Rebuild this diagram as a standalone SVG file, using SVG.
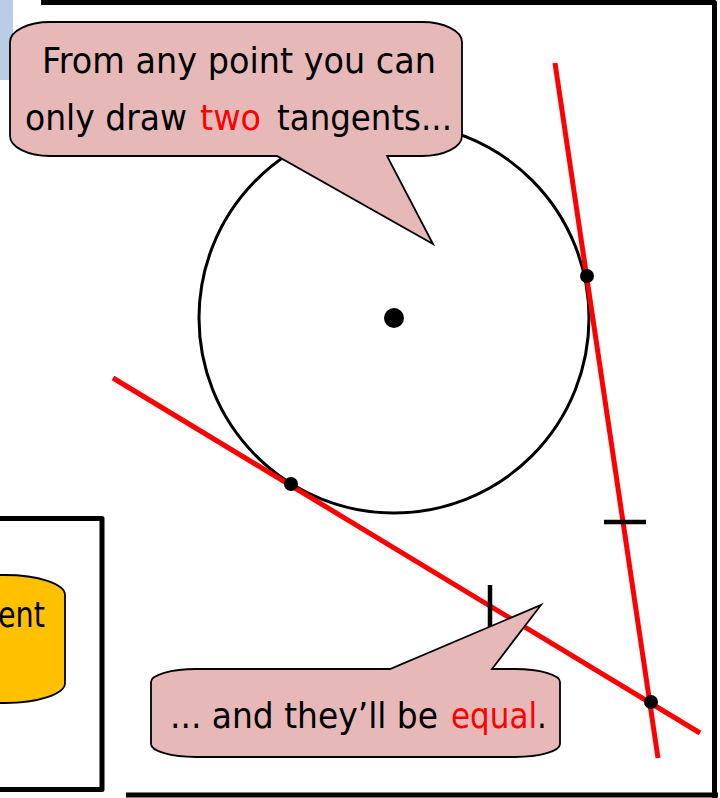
<svg xmlns="http://www.w3.org/2000/svg" width="720" height="798" viewBox="0 0 720 798">
<style>
.frame{fill:none;stroke:#000;stroke-width:5;stroke-linejoin:round}
.callout{fill:#e6b9b8;stroke:#000;stroke-width:1.8;stroke-linejoin:miter}
.txt{font-family:"DejaVu Sans","Noto Sans",sans-serif;font-size:35px;fill:#000}
.red{fill:#ff0000}
.tan{stroke:#ff0000;stroke-width:5;fill:none}
.tick{stroke:#000;stroke-width:4.5}
.dot{fill:#000}
</style>
<rect id="blue-tab" x="0" y="0" width="13" height="80" fill="#b9cde5"/>
<g id="frame">
<path class="frame" d="M41,2.5 H714.5 V798"/>
<path class="frame" d="M126,795 H718"/>
</g>
<g id="left-box">
<path class="frame" d="M-10,518.5 H102 V789.5 H-10"/>
<path d="M-100,575 H5 A60 20 0 0 1 65,595 V683 A60 20 0 0 1 5,703 H-100 Z" fill="#ffc000" stroke="#000" stroke-width="1.8"/>
<text class="txt" x="-2" y="627" textLength="47" lengthAdjust="spacingAndGlyphs">ent</text>
</g>
<g id="circle">
<circle cx="394" cy="318" r="195" fill="none" stroke="#000" stroke-width="3"/>
</g>
<g id="connectors">
<line class="tan" x1="113" y1="378" x2="700" y2="733"/>
<line class="tan" x1="555" y1="63" x2="658" y2="758"/>
</g>
<g id="ticks">
<line class="tick" x1="490" y1="585" x2="490" y2="630"/>
<line class="tick" x1="604" y1="522" x2="646" y2="522"/>
</g>
<g id="callout-top">
<path class="callout" d="M50,22 H422 A40 20 0 0 1 462,42 V136 A40 20 0 0 1 422,156 H387 L433,244 L277,156 H50 A40 20 0 0 1 10,136 V42 A40 20 0 0 1 50,22 Z"/>
<text class="txt" x="42" y="73" textLength="394" lengthAdjust="spacingAndGlyphs">From any point you can</text>
<text class="txt" x="25" y="130" textLength="162" lengthAdjust="spacingAndGlyphs">only draw</text>
<text class="txt red" x="200" y="130" textLength="61" lengthAdjust="spacingAndGlyphs">two</text>
<text class="txt" x="277" y="130" textLength="175" lengthAdjust="spacingAndGlyphs">tangents...</text>
</g>
<g id="callout-bottom">
<path class="callout" d="M196,669 H390 L541,605 L492,669 H515 A45 13 0 0 1 560,682 V744 A45 13 0 0 1 515,757 H196 A45 13 0 0 1 151,744 V682 A45 13 0 0 1 196,669 Z"/>
<text class="txt" x="170" y="728" textLength="268" lengthAdjust="spacingAndGlyphs">... and they’ll be</text>
<text class="txt" x="451" y="728" textLength="96" lengthAdjust="spacingAndGlyphs"><tspan class="red">equal</tspan>.</text>
</g>
<g id="points">
<circle class="dot" cx="394" cy="318" r="10"/>
<circle class="dot" cx="587" cy="276" r="7"/>
<circle class="dot" cx="291" cy="484" r="7"/>
<circle class="dot" cx="651" cy="702" r="7"/>
</g>
</svg>
